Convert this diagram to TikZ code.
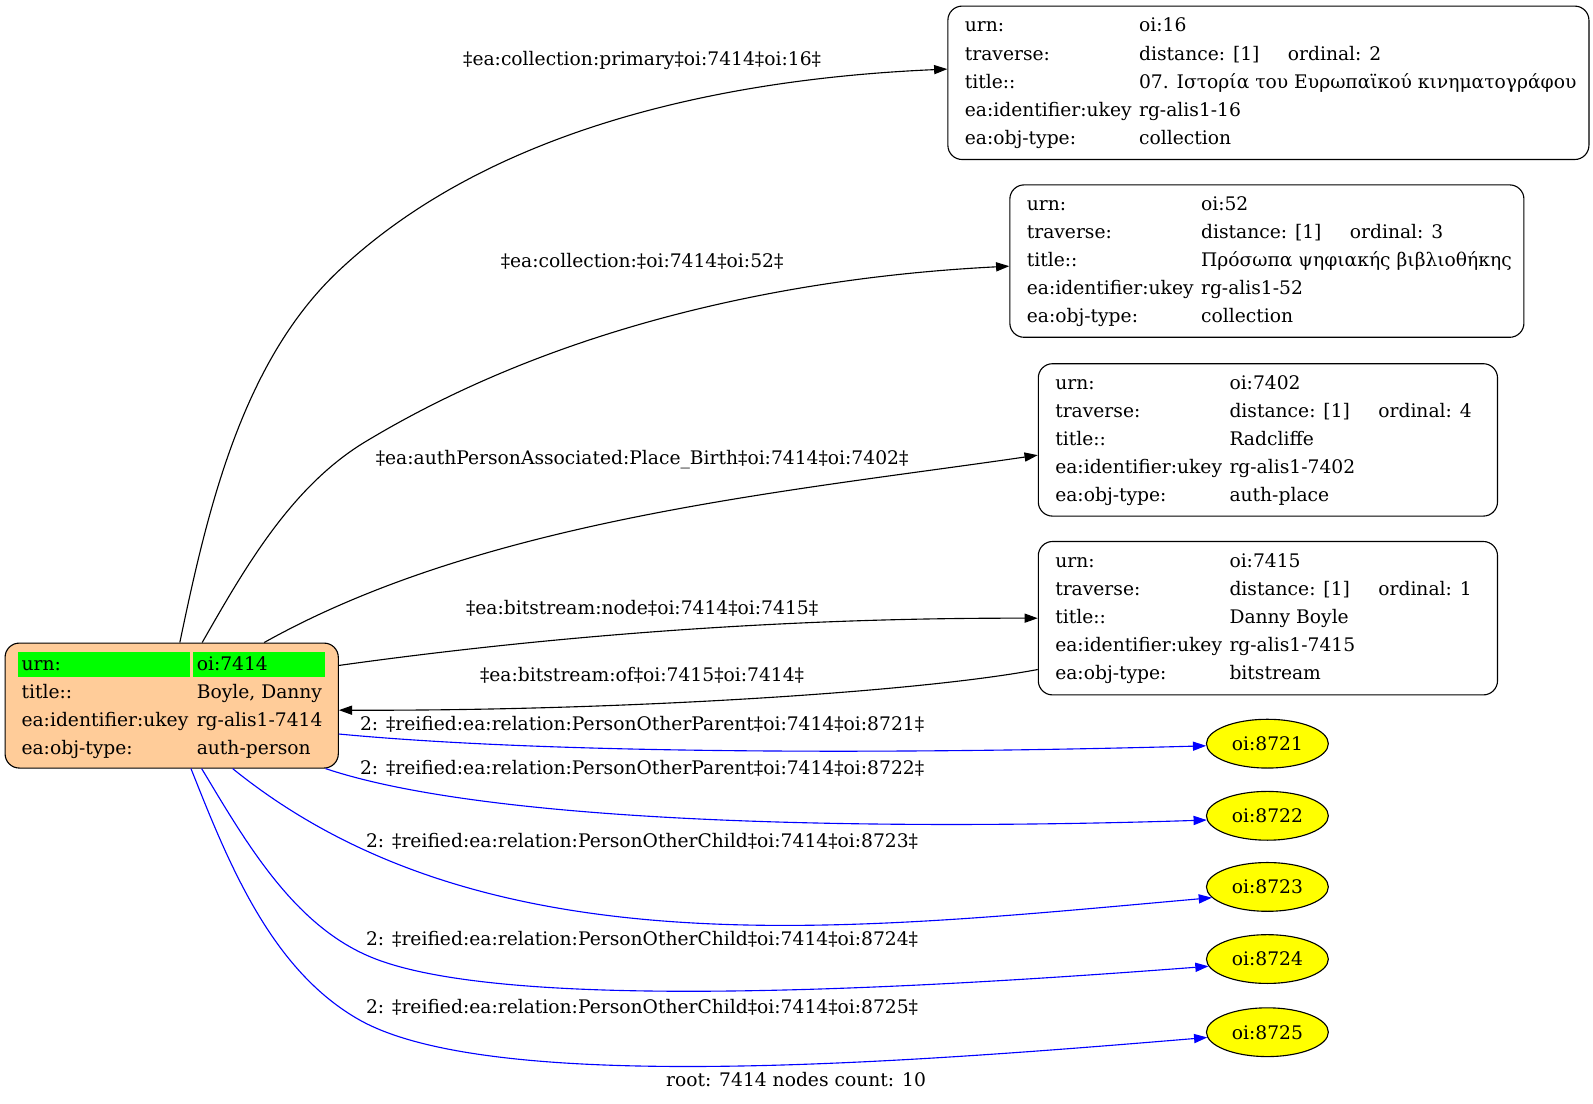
\documentclass[tikz,border=0pt]{standalone}
\usepackage{fontspec}
\setmainfont{DejaVu Serif}
\usetikzlibrary{arrows.meta, positioning, shapes.geometric}
\definecolor{peach}{HTML}{FFCC99}
\definecolor{urngreen}{HTML}{00FF00}
\definecolor{oiyellow}{HTML}{FFFF00}
\tikzset{
	recbox/.style={draw, rounded corners=14pt, line width=1.1pt, inner sep=0pt},
	cell/.style={anchor=base west, inner sep=0pt},
	elabel/.style={anchor=base, inner sep=0pt},
	oinode/.style={draw, ellipse, fill=oiyellow, line width=1.1pt, minimum width=120pt, minimum height=48pt, inner sep=0pt},
	link/.style={line width=1.1pt, -{Triangle[length=13pt,width=9pt]}},
	rlink/.style={link, blue}
}
\begin{document}
\begin{tikzpicture}[x=1pt, y=-1pt, every node/.style={font=\fontsize{18.4pt}{22pt}\selectfont}]
				\useasboundingbox (0,0) rectangle (1568,1086);

				\node[recbox, fill=peach, minimum width=328pt, minimum height=123pt] (root) at (169,694.5) {};
				\fill[urngreen] (18,641.5) rectangle (187,666.5);
				\fill[urngreen] (189.7,641.5) rectangle (320,666.5);
				\node[cell] (rk1) at (21,659.6) {urn:};
				\node[cell] (rv1) at (21+172.5,659.6) {oi:7414};
				\node[cell] (rk2) at (21,659.6+27.8) {title::};
				\node[cell] (rv2) at (21+172.5,659.6+27.8) {Boyle, Danny};
				\node[cell] (rk3) at (21,659.6+27.8*2) {ea:identifier:ukey};
				\node[cell] (rv3) at (21+172.5,659.6+27.8*2) {rg-alis1-7414};
				\node[cell] (rk4) at (21,659.6+27.8*3) {ea:obj-type:};
				\node[cell] (rv4) at (21+172.5,659.6+27.8*3) {auth-person};

				\node[recbox, minimum width=631pt, minimum height=151pt] (c16) at (933+315.5,6+75.5) {};
				\node[cell] (c16k1) at (949.5,6+25.5) {urn:};
				\node[cell] (c16v1) at (949.5+171.5,6+25.5) {oi:16};
				\node[cell] (c16k2) at (949.5,6+25.5+27.6) {traverse:};
				\node[cell] (c16v2) at (949.5+171.5,6+25.5+27.6) {distance: [1]};
				\node[cell] (c16o2) at (949.5+318,6+25.5+27.6) {ordinal: 2};
				\node[cell] (c16k3) at (949.5,6+25.5+27.6*2) {title::};
				\node[cell] (c16v3) at (949.5+171.5,6+25.5+27.6*2) {07. Ιστορία του Ευρωπαϊκού κινηματογράφου};
				\node[cell] (c16k4) at (949.5,6+25.5+27.6*3) {ea:identifier:ukey};
				\node[cell] (c16v4) at (949.5+171.5,6+25.5+27.6*3) {rg-alis1-16};
				\node[cell] (c16k5) at (949.5,6+25.5+27.6*4) {ea:obj-type:};
				\node[cell] (c16v5) at (949.5+171.5,6+25.5+27.6*4) {collection};

				\node[recbox, minimum width=506pt, minimum height=150pt] (c52) at (994+253,182+75) {};
				\node[cell] (c52k1) at (1010.5,182+25.5) {urn:};
				\node[cell] (c52v1) at (1010.5+171.5,182+25.5) {oi:52};
				\node[cell] (c52k2) at (1010.5,182+25.5+27.6) {traverse:};
				\node[cell] (c52v2) at (1010.5+171.5,182+25.5+27.6) {distance: [1]};
				\node[cell] (c52o2) at (1010.5+318,182+25.5+27.6) {ordinal: 3};
				\node[cell] (c52k3) at (1010.5,182+25.5+27.6*2) {title::};
				\node[cell] (c52v3) at (1010.5+171.5,182+25.5+27.6*2) {Πρόσωπα ψηφιακής βιβλιοθήκης};
				\node[cell] (c52k4) at (1010.5,182+25.5+27.6*3) {ea:identifier:ukey};
				\node[cell] (c52v4) at (1010.5+171.5,182+25.5+27.6*3) {rg-alis1-52};
				\node[cell] (c52k5) at (1010.5,182+25.5+27.6*4) {ea:obj-type:};
				\node[cell] (c52v5) at (1010.5+171.5,182+25.5+27.6*4) {collection};

				\node[recbox, minimum width=452pt, minimum height=150pt] (c7402) at (1022+226,358+75) {};
				\node[cell] (c7402k1) at (1038.5,358+25.5) {urn:};
				\node[cell] (c7402v1) at (1038.5+171.5,358+25.5) {oi:7402};
				\node[cell] (c7402k2) at (1038.5,358+25.5+27.6) {traverse:};
				\node[cell] (c7402v2) at (1038.5+171.5,358+25.5+27.6) {distance: [1]};
				\node[cell] (c7402o2) at (1038.5+318,358+25.5+27.6) {ordinal: 4};
				\node[cell] (c7402k3) at (1038.5,358+25.5+27.6*2) {title::};
				\node[cell] (c7402v3) at (1038.5+171.5,358+25.5+27.6*2) {Radcliffe};
				\node[cell] (c7402k4) at (1038.5,358+25.5+27.6*3) {ea:identifier:ukey};
				\node[cell] (c7402v4) at (1038.5+171.5,358+25.5+27.6*3) {rg-alis1-7402};
				\node[cell] (c7402k5) at (1038.5,358+25.5+27.6*4) {ea:obj-type:};
				\node[cell] (c7402v5) at (1038.5+171.5,358+25.5+27.6*4) {auth-place};

				\node[recbox, minimum width=452pt, minimum height=151pt] (c7415) at (1022+226,533+75.5) {};
				\node[cell] (c7415k1) at (1038.5,533+25.5) {urn:};
				\node[cell] (c7415v1) at (1038.5+171.5,533+25.5) {oi:7415};
				\node[cell] (c7415k2) at (1038.5,533+25.5+27.6) {traverse:};
				\node[cell] (c7415v2) at (1038.5+171.5,533+25.5+27.6) {distance: [1]};
				\node[cell] (c7415o2) at (1038.5+318,533+25.5+27.6) {ordinal: 1};
				\node[cell] (c7415k3) at (1038.5,533+25.5+27.6*2) {title::};
				\node[cell] (c7415v3) at (1038.5+171.5,533+25.5+27.6*2) {Danny Boyle};
				\node[cell] (c7415k4) at (1038.5,533+25.5+27.6*3) {ea:identifier:ukey};
				\node[cell] (c7415v4) at (1038.5+171.5,533+25.5+27.6*3) {rg-alis1-7415};
				\node[cell] (c7415k5) at (1038.5,533+25.5+27.6*4) {ea:obj-type:};
				\node[cell] (c7415v5) at (1038.5+171.5,533+25.5+27.6*4) {bitstream};

				\node[oinode] (e8721) at (1247.5,732) {oi:8721};
				\node[oinode] (e8722) at (1247.5,803) {oi:8722};
				\node[oinode] (e8723) at (1247.5,873) {oi:8723};
				\node[oinode] (e8724) at (1247.5,944) {oi:8724};
				\node[oinode] (e8725) at (1247.5,1016) {oi:8725};

				\draw[link] ([xshift=8pt]root.north) .. controls (204,503) and (238,355) .. (335,265)
				.. controls (488,122) and (723,77) .. ([yshift=13.5pt]c16.west);
				\draw[link] ([xshift=30pt]root.north) .. controls (241,559) and (287,478) .. (361,434)
				.. controls (549,321) and (775,273) .. ([yshift=-5pt]c52.west);
				\draw[link] ([xshift=91pt]root.north) .. controls (477,511) and (775,484) .. ([yshift=-15pt]c7402.west);
				\draw[link] ([yshift=39.5pt]root.east) .. controls (563,623) and (792,608) .. (c7415.west);
				\draw[link] ([yshift=-50.5pt]c7415.west) .. controls (900,682) and (600,700) .. ([yshift=-4.5pt]root.east);

				\draw[rlink] ([yshift=-28pt]root.east) .. controls (550,743) and (900,742) .. (e8721.182.9);
				\draw[rlink] ([xshift=151.5pt]root.south) .. controls (480,810) and (850,818) .. (e8722.184.9);
				\draw[rlink] ([xshift=60pt]root.south) .. controls (478.6,958.6) and (838,915) .. (e8723.191.7);
				\draw[rlink] ([xshift=29.5pt]root.south) .. controls (241.5,828) and (288,909.6) .. (364,941.6)
				.. controls (492.8,996.2) and (889,974) .. (e8724.187.5);
				\draw[rlink] ([xshift=19pt]root.south) .. controls (225,850) and (267,955) .. (354,1004)
				.. controls (485,1077.5) and (890,1046) .. (e8725.185.9);

				\node[elabel] (l16) at (632,64) {‡ea:collection:primary‡oi:7414‡oi:16‡};
				\node[elabel] (l52) at (632,263) {‡ea:collection:‡oi:7414‡oi:52‡};
				\node[elabel] (l7402) at (632,457.5) {‡ea:authPersonAssociated:Place\_Birth‡oi:7414‡oi:7402‡};
				\node[elabel] (l7415) at (632,605) {‡ea:bitstream:node‡oi:7414‡oi:7415‡};
				\node[elabel] (lof) at (632,671) {‡ea:bitstream:of‡oi:7415‡oi:7414‡};
				\node[elabel] (l8721) at (632,719) {2: ‡reified:ea:relation:PersonOtherParent‡oi:7414‡oi:8721‡};
				\node[elabel] (l8722) at (632,762) {2: ‡reified:ea:relation:PersonOtherParent‡oi:7414‡oi:8722‡};
				\node[elabel] (l8723) at (632,834) {2: ‡reified:ea:relation:PersonOtherChild‡oi:7414‡oi:8723‡};
				\node[elabel] (l8724) at (632,931) {2: ‡reified:ea:relation:PersonOtherChild‡oi:7414‡oi:8724‡};
				\node[elabel] (l8725) at (632,998) {2: ‡reified:ea:relation:PersonOtherChild‡oi:7414‡oi:8725‡};
				\node[elabel] (count) at (783.5,1069) {root: 7414 nodes count: 10};

			\end{tikzpicture}
\end{document}
